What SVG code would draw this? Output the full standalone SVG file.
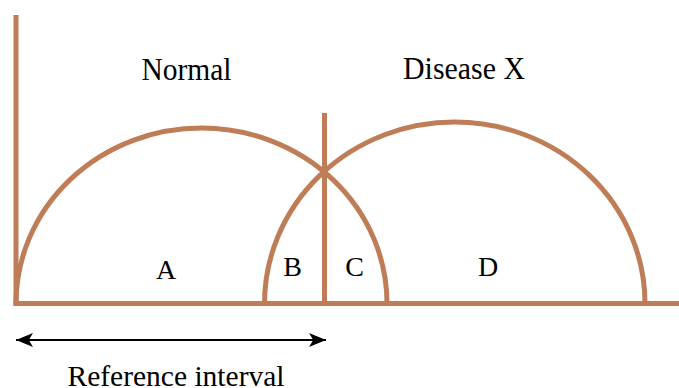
<svg xmlns="http://www.w3.org/2000/svg" width="679" height="388" viewBox="0 0 679 388">
<defs>
<style>
.br{fill:none;stroke:#bf7d57;stroke-width:5}
text{font-family:'Liberation Serif','Times New Roman',serif;fill:#000}
.big{font-size:32px}
.lt{font-size:28px;text-anchor:middle}
</style>
<marker id="ah" viewBox="0 0 10 10" refX="10" refY="5" markerWidth="17" markerHeight="14" markerUnits="userSpaceOnUse" orient="auto-start-reverse" preserveAspectRatio="none">
<path d="M0,0 L10,5 L0,10 L2.5,5 Z" fill="#000"/>
</marker>
</defs>
<rect width="679" height="388" fill="#fff"/>
<g id="axes">
<line class="br" x1="16" y1="15" x2="16" y2="306"/>
<line class="br" x1="13.5" y1="303.5" x2="679" y2="303.5"/>
</g>
<g id="normal-curve">
<path class="br" d="M16,303.5 A185.5,175.5 0 0 1 387,303.5"/>
<text class="big" x="141.5" y="80" textLength="90" lengthAdjust="spacingAndGlyphs">Normal</text>
</g>
<g id="disease-curve">
<path class="br" d="M264.5,303.5 A190.25,181.5 0 0 1 645,303.5"/>
<text class="big" x="403" y="78.5" textLength="122" lengthAdjust="spacingAndGlyphs">Disease X</text>
</g>
<g id="cutoff">
<line class="br" x1="324.5" y1="113" x2="324.5" y2="303.5"/>
</g>
<g id="regions">
<text class="lt" x="166" y="279">A</text>
<text class="lt" x="292.5" y="276">B</text>
<text class="lt" x="354.5" y="276">C</text>
<text class="lt" x="488" y="276">D</text>
</g>
<g id="connectors">
<line x1="16" y1="340" x2="326" y2="340" stroke="#000" stroke-width="2" marker-start="url(#ah)" marker-end="url(#ah)"/>
</g>
<g id="reference-interval">
<text x="67.5" y="386" font-size="29" textLength="217" lengthAdjust="spacingAndGlyphs">Reference interval</text>
</g>
</svg>
